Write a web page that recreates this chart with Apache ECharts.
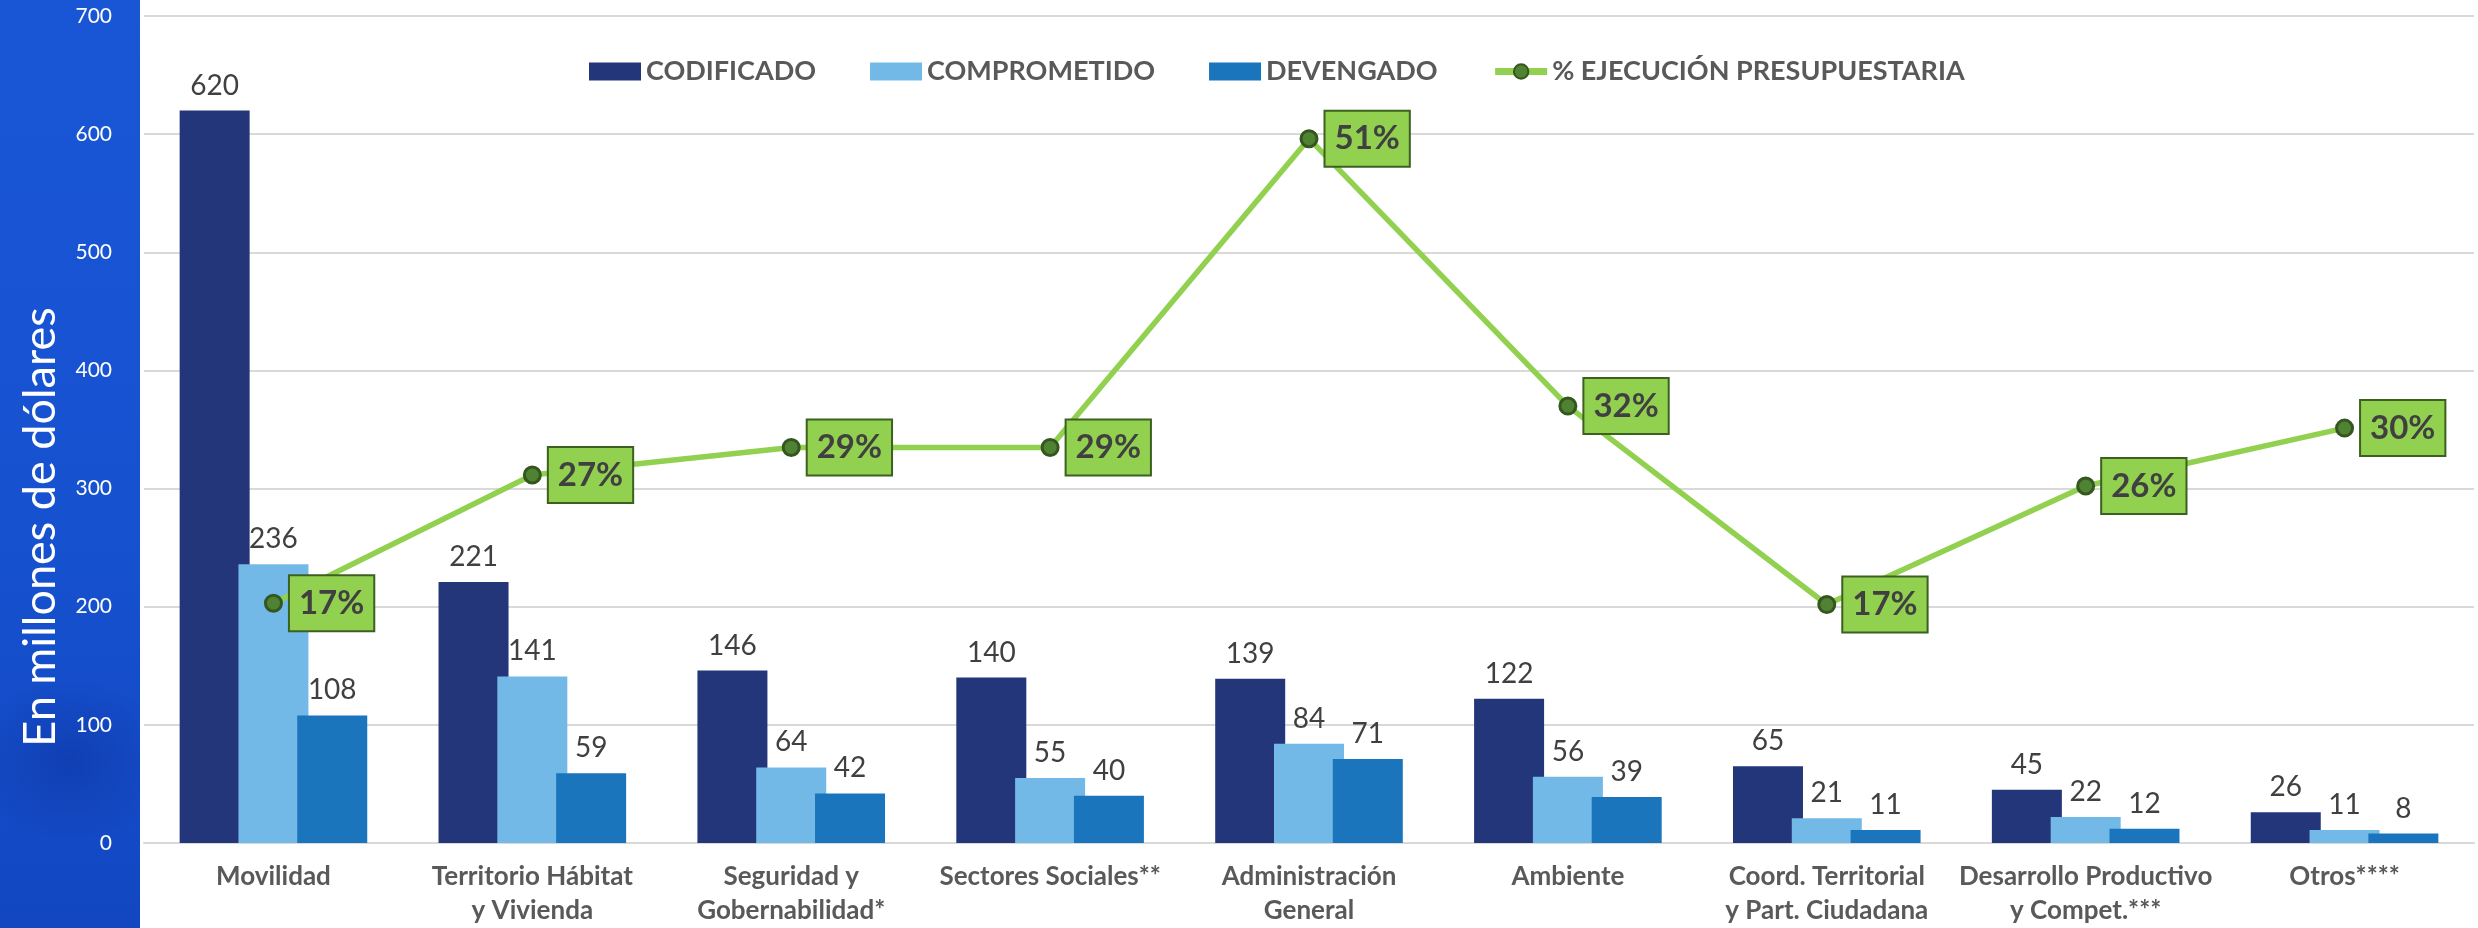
<!DOCTYPE html>
<html><head><meta charset="utf-8">
<script src="https://cdn.jsdelivr.net/npm/echarts@6/dist/echarts.min.js"></script>
<style>
html,body{margin:0;padding:0;background:#fff;}
#panel{position:absolute;left:0;top:0;width:140px;height:928px;
 background:radial-gradient(ellipse 140px 120px at 70px 760px, rgba(10,40,140,0.35), rgba(10,40,140,0) 70%),
 linear-gradient(180deg,#1956d6 0%,#1652d0 55%,#1347c2 100%);}
#chart{position:absolute;left:0;top:0;width:2478px;height:928px;}
</style>
</head><body><div id="panel"></div><div id="chart"></div>
<script>
const categories = ['Movilidad','Territorio Hábitat\ny Vivienda','Seguridad y\nGobernabilidad*','Sectores Sociales**','Administración\nGeneral','Ambiente','Coord. Territorial\ny Part. Ciudadana','Desarrollo Productivo\ny Compet.***','Otros****'];
const codificado = [620,221,146,140,139,122,65,45,26];
const comprometido = [236,141,64,55,84,56,21,22,11];
const devengado = [108,59,42,40,71,39,11,12,8];
const ejecucion = [17.4,26.7,28.7,28.7,51.1,31.7,17.3,25.9,30.1];
const yTicks = {min:0, max:700, interval:100};
const seriesNames = ['CODIFICADO','COMPROMETIDO','DEVENGADO','% EJECUCIÓN PRESUPUESTARIA'];

const chart = echarts.init(document.getElementById('chart'), null, {renderer:'canvas'});
const barLabel = {show:true, position:'top', distance:11, color:'#404040', fontFamily:'Lato', fontSize:28};
const barCommon = {type:'bar', barWidth:70, barGap:'-16%', barCategoryGap:'19%', label:barLabel, z:2};
chart.setOption({
  backgroundColor:'transparent',
  animation:false,
  legend:{
    left:584, top:53, itemWidth:52, itemHeight:18, itemGap:54,
    textStyle:{fontFamily:'Lato', fontWeight:'bold', fontSize:27, color:'#595959'},
    data:[
      {name:seriesNames[0], icon:'rect'},
      {name:seriesNames[1], icon:'rect'},
      {name:seriesNames[2], icon:'rect'},
      {name:seriesNames[3], lineStyle:{width:7, color:'#92D050'}}
    ]
  },
  grid:{left:144, right:4, top:16, bottom:84, containLabel:false},
  xAxis:{
    type:'category', data:categories,
    axisLine:{lineStyle:{color:'#D9D9D9', width:2}},
    axisTick:{show:false},
    axisLabel:{interval:0, margin:17, fontFamily:'Lato', fontWeight:'bold', fontSize:26, lineHeight:34, color:'#595959'}
  },
  yAxis:[{
    type:'value', min:yTicks.min, max:yTicks.max, interval:yTicks.interval,
    axisLine:{show:false}, axisTick:{show:false},
    splitLine:{lineStyle:{color:'#D9D9D9', width:2}},
    axisLabel:{margin:32, fontFamily:'Lato', fontSize:21, color:'#ffffff'}
  },{
    type:'value', min:0, max:60, show:false, splitLine:{show:false}
  }],
  graphic:[{
    type:'text',
    x:40, y:527,
    rotation:Math.PI/2,
    z:10,
    style:{text:'En millones de dólares', fill:'#ffffff', font:'normal 45px Lato', textAlign:'center', textVerticalAlign:'middle'}
  }],
  series:[
    Object.assign({name:seriesNames[0], data:codificado, itemStyle:{color:'#24367A'}}, barCommon),
    Object.assign({name:seriesNames[1], data:comprometido, itemStyle:{color:'#72B9E7'}}, barCommon),
    Object.assign({name:seriesNames[2], data:devengado, itemStyle:{color:'#1B75BC'}}, barCommon),
    {
      name:seriesNames[3], type:'line', yAxisIndex:1, data:ejecucion, z:5,
      symbol:'circle', symbolSize:16,
      lineStyle:{color:'#92D050', width:5.5},
      itemStyle:{color:'#4F8232', borderColor:'#36561F', borderWidth:3},
      label:{show:true, position:'right', distance:7,
        formatter:p=>Math.round(p.value)+'%',
        fontFamily:'Lato', fontWeight:'bold', fontSize:33, lineHeight:36, color:'#404040',
        backgroundColor:'#92D050', borderColor:'#3B6020', borderWidth:2, padding:[9,9,9,9]}
    }
  ]
});
</script>
</body></html>
